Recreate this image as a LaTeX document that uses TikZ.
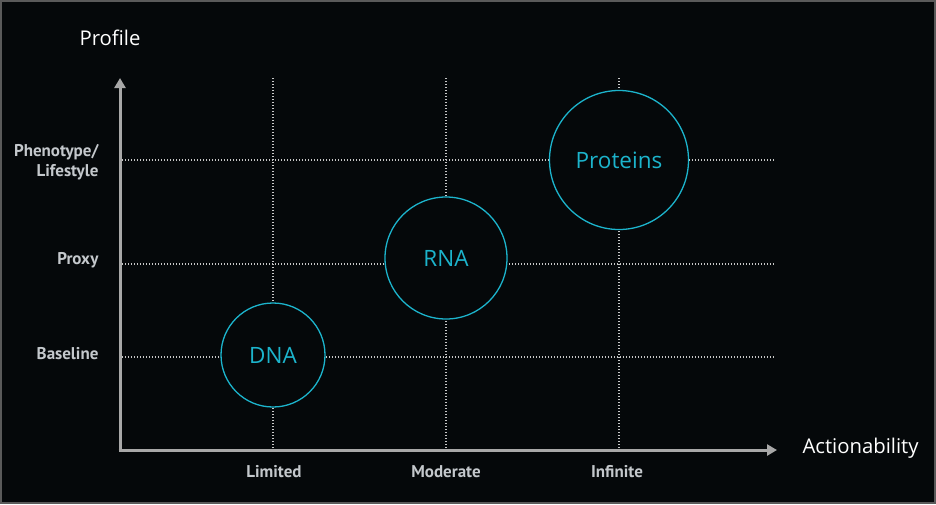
\documentclass[tikz,border=0pt]{standalone}
\usepackage{fontspec}
\setmainfont{Open Sans}
\newfontfamily\labfont{PT Sans}
\usetikzlibrary{arrows.meta}
\definecolor{bgc}{HTML}{05080A}
\definecolor{axc}{HTML}{A8A8A8}
\definecolor{gridc}{HTML}{C8C8C8}
\definecolor{cyc}{HTML}{1CB4CC}
\definecolor{labc}{HTML}{C4C8CC}
\definecolor{brd}{HTML}{5A5A5A}
\tikzset{
  grid line/.style={gridc, line width=1.2pt, dash pattern=on 1.2pt off 1.8pt},
  axis line/.style={axc, line width=3pt, -{Triangle[length=10pt,width=11pt]}},
  bubble/.style={circle, draw=cyc, fill=bgc, line width=1.3pt, text=cyc, font=\fontsize{22.5}{24}\selectfont, inner sep=0pt},
  ticklab/.style={text=labc, font=\labfont\bfseries\fontsize{17}{19.5}\selectfont},
  title/.style={text=white, font=\fontsize{20.3}{22}\selectfont}
}
\begin{document}
\begin{tikzpicture}[x=1pt,y=-1pt]
\fill[bgc] (0,0) rectangle (936,504);
\draw[brd, line width=2pt] (1,1) rectangle (935,503);
\useasboundingbox (0,0) rectangle (936,504);
% coordinates
\coordinate (o) at (120,450);
\coordinate (ytop) at (120,78);
\coordinate (xend) at (777,450);
\foreach \n/\x in {a/273,b/446,c/619}{
  \coordinate (v\n t) at (\x,78);
  \coordinate (v\n b) at (\x,448);
}
\foreach \n/\y in {a/357,b/264,c/160}{
  \coordinate (h\n l) at (122,\y);
  \coordinate (h\n r) at (775,\y);
}
% grid
\foreach \n in {a,b,c}{
  \draw[grid line] (v\n t) -- (v\n b);
  \draw[grid line] (h\n l) -- (h\n r);
}
% bubbles
\node[bubble, minimum size=104pt] (dna) at (273,355) {DNA};
\node[bubble, minimum size=122pt] (rna) at (446,258) {RNA};
\node[bubble, minimum size=139pt] (prot) at (619,160) {Proteins};
% axes
\draw[axis line, shorten <=-1.5pt] (o) -- (ytop);
\draw[axis line, shorten <=-1.5pt] (o) -- (xend);
% titles
\node[title] (ylab) at (110,38) {Profile};
\node[title, anchor=west] (xlab) at (799,448) {Actionability};
% tick labels
\node[ticklab, anchor=east, align=right] (t1) at (102,162) {Phenotype/\\Lifestyle};
\node[ticklab, anchor=east] (t2) at (102,260) {Proxy};
\node[ticklab, anchor=east] (t3) at (102,354) {Baseline};
\node[ticklab] (x1) at (274,472) {Limited};
\node[ticklab] (x2) at (446,472) {Moderate};
\node[ticklab] (x3) at (617,472) {Infinite};
\end{tikzpicture}
\end{document}
